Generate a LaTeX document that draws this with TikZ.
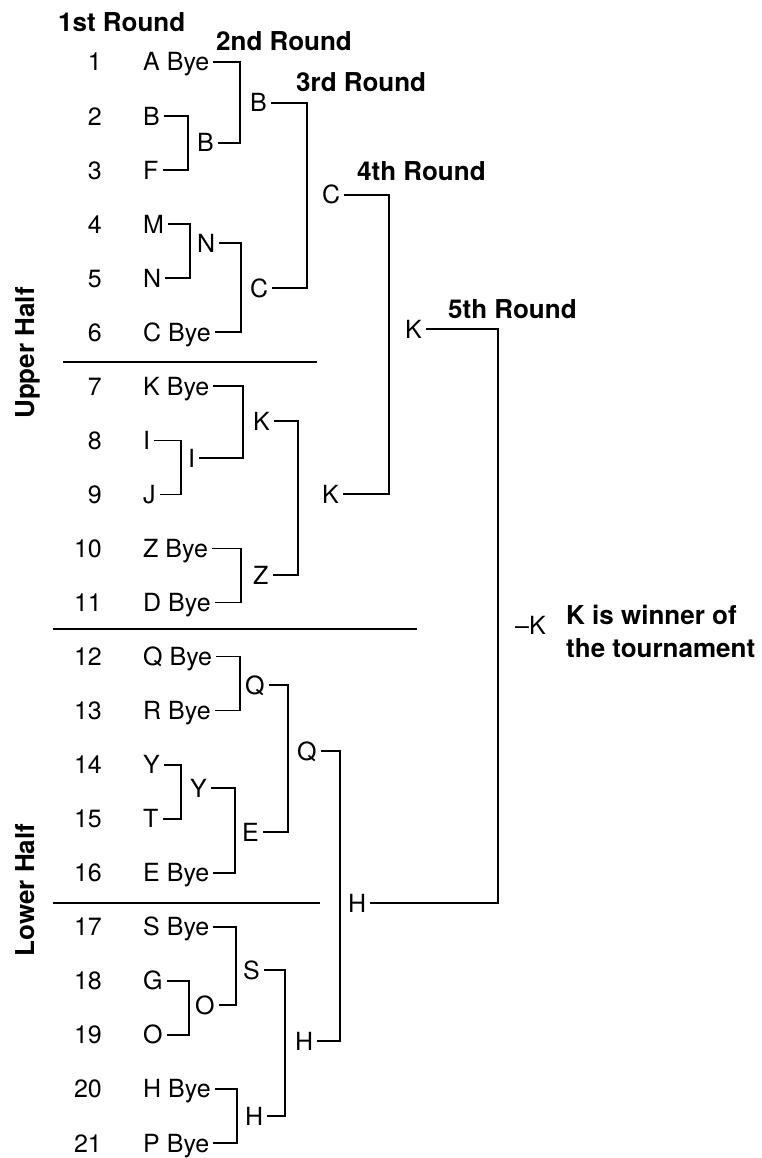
\documentclass[tikz,border=0pt]{standalone}
\usepackage{fontspec}
\setmainfont{TeX Gyre Heros}
\usetikzlibrary{calc}
\newcommand\tourfont{\fontsize{25}{30}\selectfont}
\newcommand\headfont{\fontsize{26}{33}\selectfont\bfseries}

\begin{document}
\begin{tikzpicture}[
      x=1pt, y=-1pt,
      entry/.style={anchor=west, inner ysep=0pt, inner xsep=4pt, text height=18pt, text depth=0pt, font=\tourfont},
      num/.style={entry, anchor=east},
      head/.style={entry, font=\headfont},
      half/.style={entry, anchor=center, font=\headfont, rotate=90},
      note/.style={anchor=west, inner sep=0pt, align=left, font=\headfont},
      link/.style={line width=1.7pt},
      rule/.style={line width=1.4pt}
    ]
    \useasboundingbox (0,0) rectangle (762,1158);

    % first round entries with their numbers
    \foreach \t [count=\i] in {A Bye, B, F, M, N, C Bye, K Bye, I, J, Z Bye, D Bye,
                               Q Bye, R Bye, Y, T, E Bye, S Bye, G, O, H Bye, P Bye} {
      \node[num] (n\i) at (106, {62+(\i-1)*54.05}) {\i};
      \node[entry] (r\i) at (139, {62+(\i-1)*54.05}) {\t};
    }

    % winners
    \node[entry] (w2a) at (193,143) {B};
    \node[entry] (w2b) at (193,243) {N};
    \node[entry] (w2c) at (184,458) {I};
    \node[entry] (w2d) at (186,788) {Y};
    \node[entry] (w2e) at (191,1005) {O};

    \node[entry] (w3a) at (246,103) {B};
    \node[entry] (w3b) at (246,288) {C};
    \node[entry] (w3c) at (249,421) {K};
    \node[entry] (w3d) at (249,575) {Z};
    \node[entry] (w3e) at (241,685) {Q};
    \node[entry] (w3f) at (238,832) {E};
    \node[entry] (w3g) at (239,970) {S};
    \node[entry] (w3h) at (241,1116) {H};

    \node[entry] (w4a) at (318,195) {C};
    \node[entry] (w4b) at (318,494) {K};
    \node[entry] (w4c) at (293,751) {Q};
    \node[entry] (w4d) at (291,1041) {H};

    \node[entry] (w5a) at (401,329) {K};
    \node[entry] (w5b) at (344,903) {H};

    \node[entry] (champ) at (511,625) {--K};
    \node[note] (winner) at (566,631) {K is winner of\\the tournament};

    % round headings
    \node[head] (h1) at (54,23) {1st Round};
    \node[head] (h2) at (212,42) {2nd Round};
    \node[head] (h3) at (292,83) {3rd Round};
    \node[head] (h4) at (353,172) {4th Round};
    \node[head] (h5) at (444,309) {5th Round};

    \node[half] (upper) at (25,353) {Upper Half};
    \node[half] (lower) at (25,890) {Lower Half};

    % brackets: two entries, vertical at x, winner beside it
    \foreach \a/\b/\w/\x in {r2/r3/w2a/188, r4/r5/w2b/190, r8/r9/w2c/181,
                             r14/r15/w2d/181, r18/r19/w2e/189,
                             r1/w2a/w3a/240, w2b/r6/w3b/241, r7/w2c/w3c/243,
                             r10/r11/w3d/241, r12/r13/w3e/240, w2d/r16/w3f/235,
                             r17/w2e/w3g/236, r20/r21/w3h/237,
                             w3a/w3b/w4a/307, w3c/w3d/w4b/298,
                             w3e/w3f/w4c/288, w3g/w3h/w4d/285,
                             w4a/w4b/w5a/389, w4c/w4d/w5b/340,
                             w5a/w5b/champ/498} {
      \coordinate (v\w) at (\x,0);
      \draw[link] (\a.east) -| (\b.east -| v\w) -- (\b.east);
    }

    % dividers
    \draw[rule] (63,362) -- (317,362);
    \draw[rule] (53,629) -- (417,629);
    \draw[rule] (53,903) -- (320,903);
  \end{tikzpicture}
\end{document}
